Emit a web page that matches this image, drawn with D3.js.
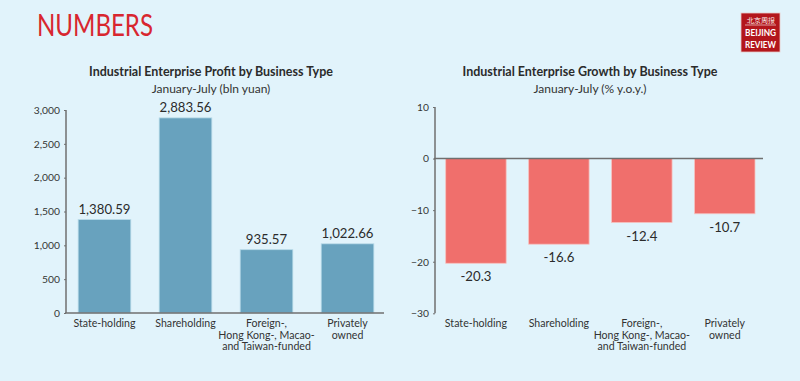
<!DOCTYPE html>
<html><head><meta charset="utf-8">
<script src="https://cdn.jsdelivr.net/npm/d3@7/dist/d3.min.js"></script>
<style>
html,body{margin:0;padding:0;background:#e1f3fb;}
svg{display:block;}
text{font-family:Lato,"Noto Sans",sans-serif;}
</style></head><body>
<svg id="c" width="800" height="381"></svg>
<script>
const categories = ["State-holding", "Shareholding", "Foreign-,|Hong Kong-, Macao-|and Taiwan-funded", "Privately|owned"];
const profitValues = [1380.59, 2883.56, 935.57, 1022.66];
const profitLabels = ["1,380.59", "2,883.56", "935.57", "1,022.66"];
const growthValues = [-20.3, -16.6, -12.4, -10.7];
const growthLabels = ["-20.3", "-16.6", "-12.4", "-10.7"];
const profitTicks = [0, 500, 1000, 1500, 2000, 2500, 3000];
const growthTicks = [-30, -20, -10, 0, 10];

const svg = d3.select("#c");
svg.append("rect").attr("width",800).attr("height",381).attr("fill","#e1f3fb");

// Header
svg.append("text").attr("x",37).attr("y",36).text("NUMBERS")
  .attr("font-family","'Liberation Sans Narrow','DejaVu Sans Condensed',sans-serif")
  .attr("font-size",31).attr("fill","#d8262f").attr("textLength",116).attr("lengthAdjust","spacingAndGlyphs");

// Logo
const logo = svg.append("g");
logo.append("rect").attr("x",741).attr("y",13).attr("width",39).attr("height",39).attr("fill","#b3161c").attr("stroke","#e9c9c9").attr("stroke-width",0.8);
logo.append("text").attr("x",760.5).attr("y",22.5).attr("text-anchor","middle").attr("font-size",6.5)
  .attr("font-family","'Noto Sans CJK SC',sans-serif").attr("fill","#fff").text("北京周报");
logo.append("line").attr("x1",745).attr("x2",776).attr("y1",25).attr("y2",25).attr("stroke","#fff").attr("stroke-width",0.6);
logo.append("text").attr("x",760.5).attr("y",36).attr("text-anchor","middle").attr("font-size",10).attr("font-weight","bold")
  .attr("font-family","'Liberation Sans Narrow','DejaVu Sans Condensed',sans-serif").attr("fill","#fff")
  .attr("textLength",31).attr("lengthAdjust","spacingAndGlyphs").text("BEIJING");
logo.append("text").attr("x",760.5).attr("y",47.5).attr("text-anchor","middle").attr("font-size",10).attr("font-weight","bold")
  .attr("font-family","'Liberation Sans Narrow','DejaVu Sans Condensed',sans-serif").attr("fill","#fff")
  .attr("textLength",31).attr("lengthAdjust","spacingAndGlyphs").text("REVIEW");

const textCol = "#333";
const axisCol = "#6f6f6f";

function titles(cx, t, s){
  svg.append("text").attr("x",cx).attr("y",75.5).attr("text-anchor","middle").attr("font-size",12.5)
    .attr("font-weight","bold").attr("fill","#2b2b2b").text(t);
  svg.append("text").attr("x",cx).attr("y",93).attr("text-anchor","middle").attr("font-size",12)
    .attr("fill",textCol).text(s);
}
function catLabels(x){
  categories.forEach((c,i)=>{
    const lines = c.split("|");
    const t = svg.append("text").attr("text-anchor","middle").attr("font-size",10.6).attr("fill",textCol);
    lines.forEach((l,j)=>{
      t.append("tspan").attr("x",x(c)+x.bandwidth()/2).attr("y",327+j*11.7).text(l);
    });
  });
}

// Left chart
titles(211, "Industrial Enterprise Profit by Business Type", "January-July (bln yuan)");
const x1 = d3.scaleBand().domain(categories).range([66,386]).paddingInner(0.35).paddingOuter(0.15);
const y1 = d3.scaleLinear().domain([0,3000]).range([313,110]);
const g1 = svg.append("g");
g1.selectAll("rect.b").data(categories).join("rect")
  .attr("x",d=>x1(d)).attr("width",x1.bandwidth())
  .attr("y",(d,i)=>y1(profitValues[i])).attr("height",(d,i)=>y1(0)-y1(profitValues[i]))
  .attr("fill","#68a2be").attr("stroke","#b9dbe9").attr("stroke-width",0.8);
g1.selectAll("text.v").data(categories).join("text")
  .attr("x",d=>x1(d)+x1.bandwidth()/2).attr("y",(d,i)=>y1(profitValues[i])-6)
  .attr("text-anchor","middle").attr("font-size",13.2).attr("fill","#2b2b2b").text((d,i)=>profitLabels[i]);
const ax1 = svg.append("g").attr("transform","translate(66,0)")
  .call(d3.axisLeft(y1).tickValues(profitTicks).tickSize(2).tickFormat(d3.format(",")));
ax1.select(".domain").remove();
ax1.selectAll("line").attr("stroke",axisCol);
ax1.selectAll("text").attr("font-family","Lato,sans-serif").attr("font-size",10.3).attr("fill",textCol).attr("dx",-1);
svg.append("line").attr("x1",66).attr("x2",66).attr("y1",y1(3000)).attr("y2",y1(0)).attr("stroke",axisCol).attr("stroke-width",1.5);
svg.append("line").attr("x1",65).attr("x2",384).attr("y1",y1(0)).attr("y2",y1(0)).attr("stroke",axisCol).attr("stroke-width",1.5);
catLabels(x1);

// Right chart
titles(590, "Industrial Enterprise Growth by Business Type", "January-July (% y.o.y.)");
const x2 = d3.scaleBand().domain(categories).range([435,765.7]).paddingInner(0.271).paddingOuter(0.129);
const y2 = d3.scaleLinear().domain([-30,10]).range([313.3,107]);
const g2 = svg.append("g");
g2.selectAll("rect.b").data(categories).join("rect")
  .attr("x",d=>x2(d)).attr("width",x2.bandwidth())
  .attr("y",y2(0)).attr("height",(d,i)=>y2(growthValues[i])-y2(0))
  .attr("fill","#f06f6c").attr("stroke","#f6c2c0").attr("stroke-width",0.8);
g2.selectAll("text.v").data(categories).join("text")
  .attr("x",d=>x2(d)+x2.bandwidth()/2).attr("y",(d,i)=>y2(growthValues[i])+18)
  .attr("text-anchor","middle").attr("font-size",13.2).attr("fill","#2b2b2b").text((d,i)=>growthLabels[i]);
const ax2 = svg.append("g").attr("transform","translate(435,0)")
  .call(d3.axisLeft(y2).tickValues(growthTicks).tickSize(2).tickFormat(d3.format("")));
ax2.select(".domain").remove();
ax2.selectAll("line").attr("stroke",axisCol);
ax2.selectAll("text").attr("font-family","Lato,sans-serif").attr("font-size",10.3).attr("fill",textCol).attr("dx",-1);
svg.append("line").attr("x1",435).attr("x2",435).attr("y1",y2(10)).attr("y2",y2(-30)).attr("stroke",axisCol).attr("stroke-width",1.5);
svg.append("line").attr("x1",434).attr("x2",763).attr("y1",y2(0)).attr("y2",y2(0)).attr("stroke",axisCol).attr("stroke-width",1.5);
catLabels(x2);
</script>
</body></html>
